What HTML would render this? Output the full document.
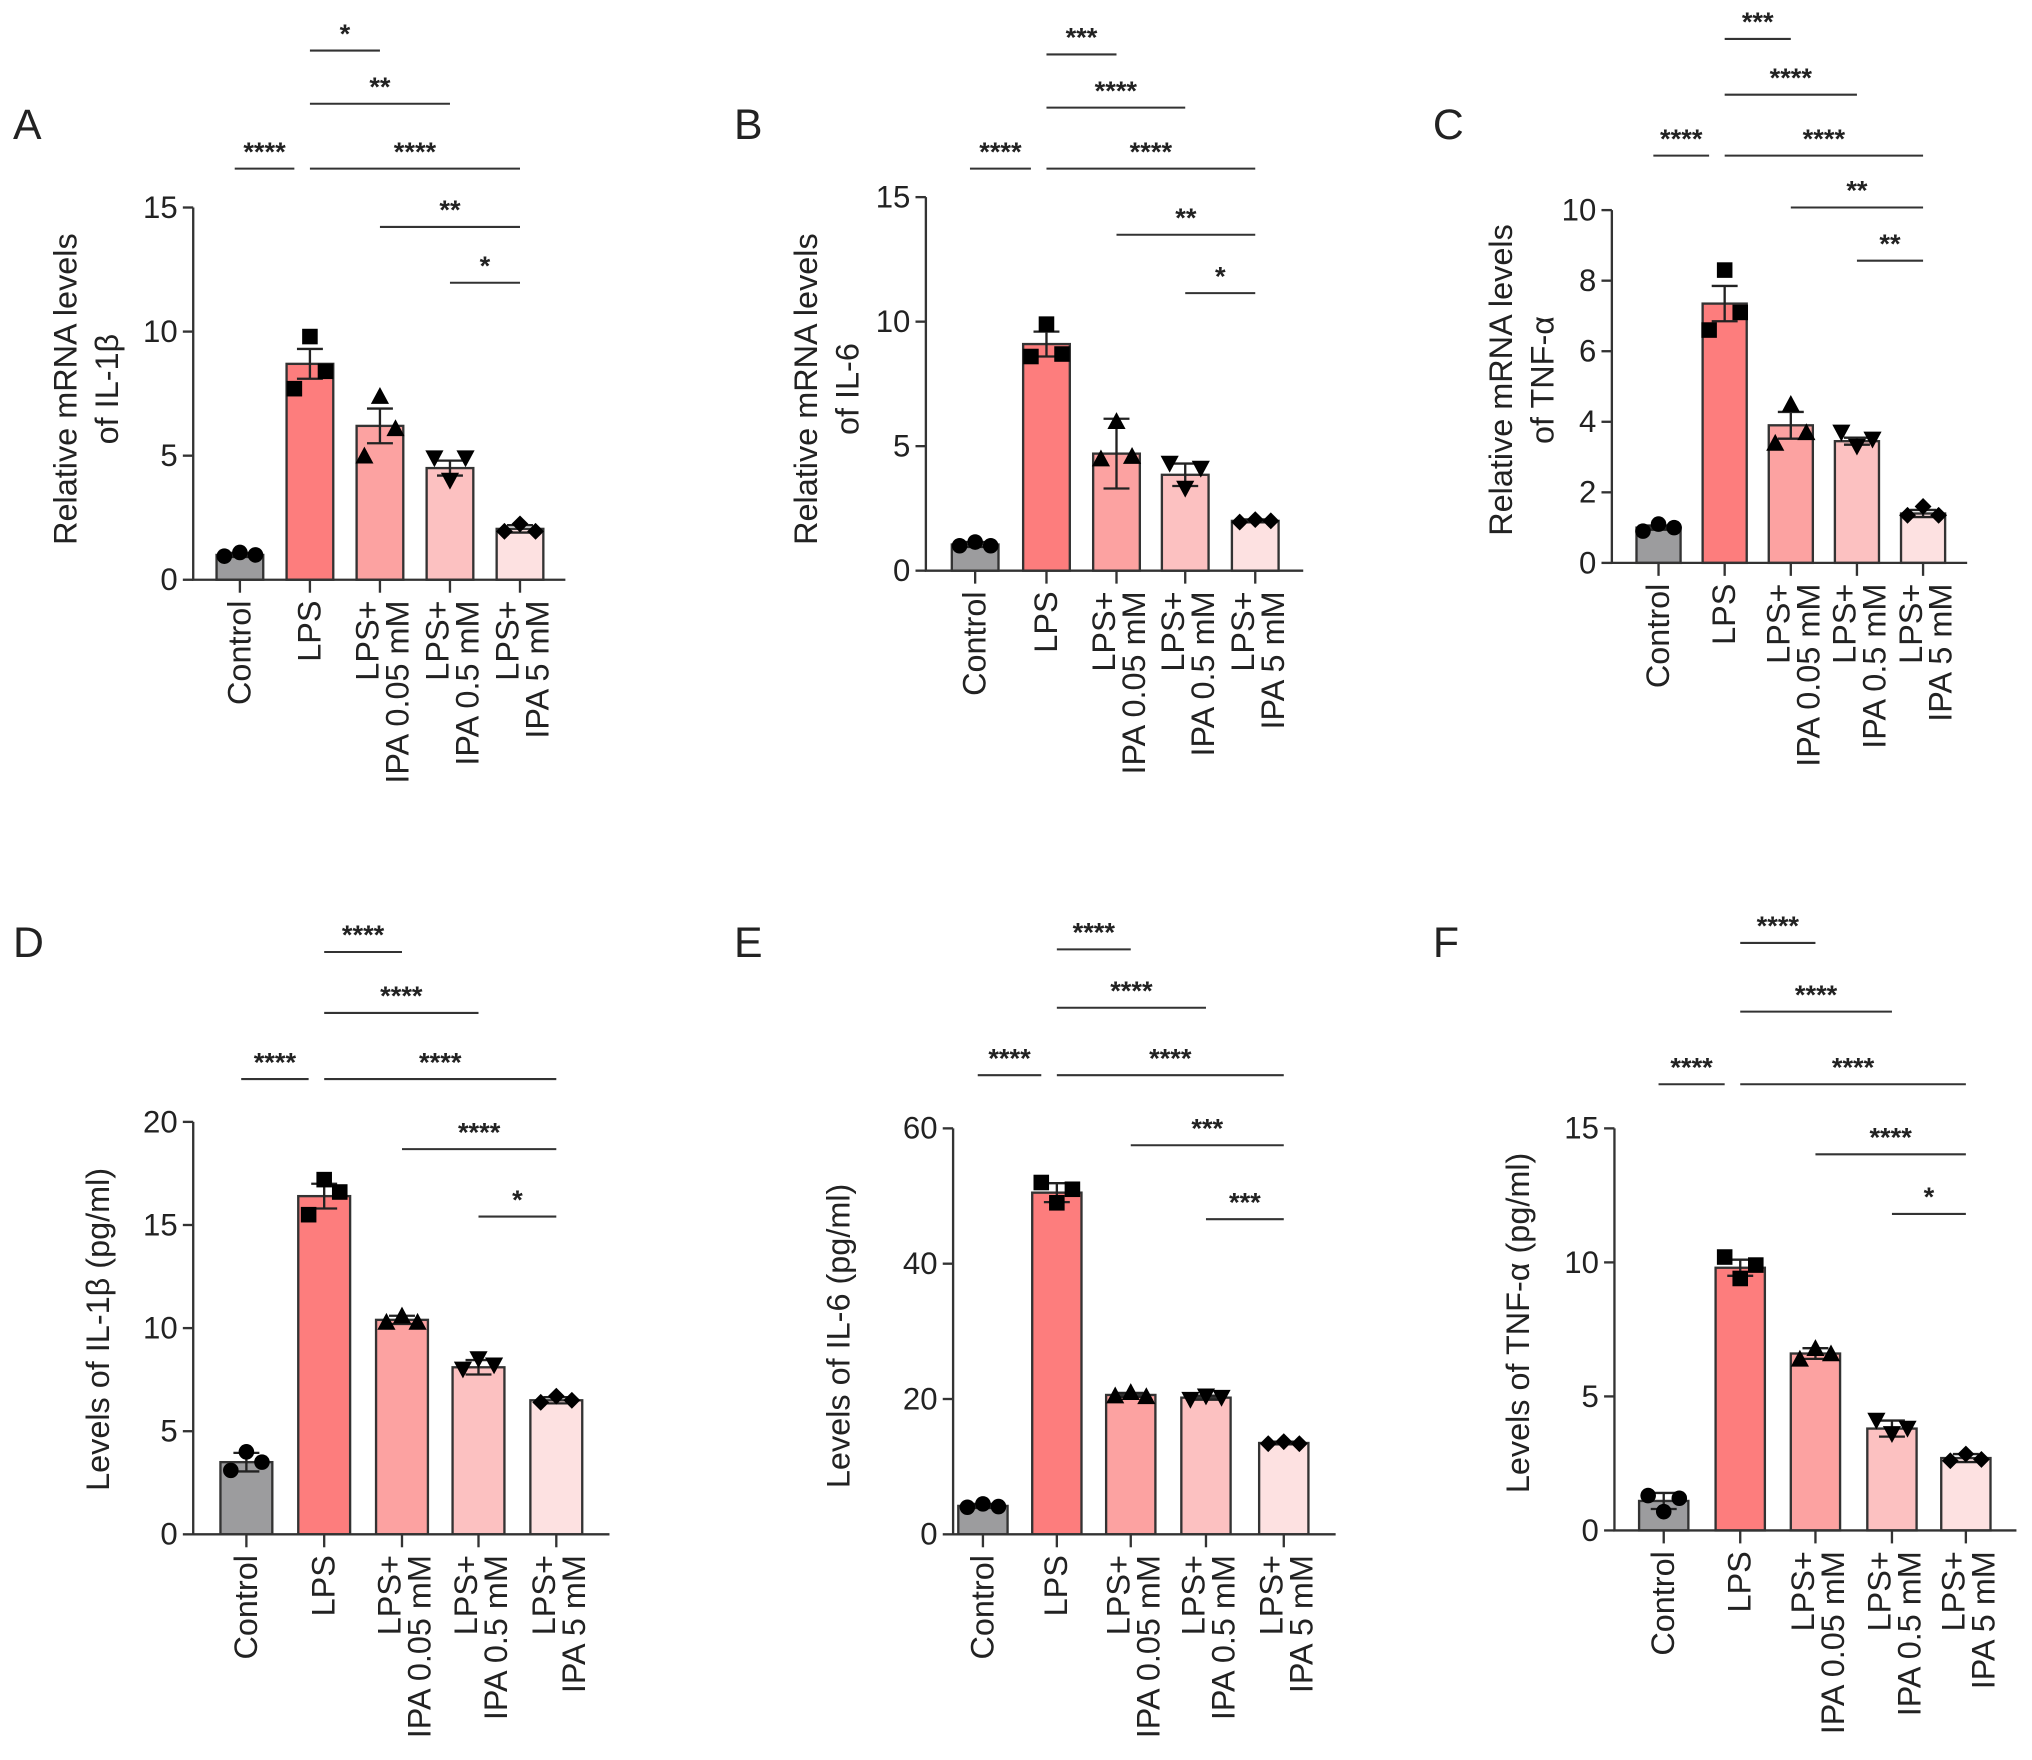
<!DOCTYPE html>
<html><head><meta charset="utf-8"><style>
html,body{margin:0;padding:0;background:#fff;}
svg{display:block;}
text{font-family:"Liberation Sans",Arial,sans-serif;fill:#222;}
</style></head><body>
<svg id="fig" width="2032" height="1760" viewBox="0 0 1567 1357" preserveAspectRatio="none" xmlns="http://www.w3.org/2000/svg"></svg>
<script>
// ---- data ----
const categories = ["Control","LPS","LPS+|IPA 0.05 mM","LPS+|IPA 0.5 mM","LPS+|IPA 5 mM"];
const aMeans = [1.0, 8.7, 6.2, 4.5, 2.05];
const aSem = [0.08, 0.6, 0.7, 0.3, 0.15];
const aPoints = [[0.95,1.1,1.0],[7.7,9.8,8.4],[5.0,7.4,6.1],[4.9,4.0,4.9],[1.95,2.25,1.95]];
const aTicks = [0,5,10,15];
const bMeans = [1.05, 9.1, 4.7, 3.85, 2.0];
const bSem = [0.1, 0.5, 1.4, 0.45, 0.06];
const bPoints = [[1.0,1.15,1.0],[8.6,9.9,8.7],[4.5,6.0,4.6],[4.3,3.3,4.1],[1.95,2.05,2.0]];
const bTicks = [0,5,10,15];
const cMeans = [1.0, 7.35, 3.9, 3.45, 1.4];
const cSem = [0.06, 0.5, 0.38, 0.1, 0.1];
const cPoints = [[0.9,1.1,1.0],[6.6,8.3,7.1],[3.4,4.5,3.7],[3.7,3.3,3.5],[1.35,1.6,1.35]];
const cTicks = [0,2,4,6,8,10];
const dMeans = [3.5, 16.4, 10.4, 8.1, 6.5];
const dSem = [0.45, 0.6, 0.2, 0.35, 0.15];
const dPoints = [[3.1,4.0,3.5],[15.5,17.2,16.6],[10.3,10.6,10.3],[8.0,8.5,8.2],[6.4,6.7,6.5]];
const dTicks = [0,5,10,15,20];
const eMeans = [4.2, 50.5, 20.6, 20.2, 13.5];
const eSem = [0.3, 1.4, 0.3, 0.3, 0.2];
const ePoints = [[4.0,4.5,4.1],[52,49,51],[20.5,21,20.4],[19.9,20.4,20.2],[13.4,13.7,13.4]];
const eTicks = [0,20,40,60];
const fMeans = [1.1, 9.8, 6.6, 3.8, 2.7];
const fSem = [0.3, 0.3, 0.2, 0.3, 0.15];
const fPoints = [[1.3,0.7,1.2],[10.2,9.4,9.9],[6.4,6.8,6.6],[4.1,3.6,3.8],[2.6,2.85,2.65]];
const fTicks = [0,5,10,15];
// significance: [fromIndex, toIndex, stars]
const aSig = [[1,2,"*"],[1,3,"**"],[0,1,"****"],[1,4,"****"],[2,4,"**"],[3,4,"*"]];
const bSig = [[1,2,"***"],[1,3,"****"],[0,1,"****"],[1,4,"****"],[2,4,"**"],[3,4,"*"]];
const cSig = [[1,2,"***"],[1,3,"****"],[0,1,"****"],[1,4,"****"],[2,4,"**"],[3,4,"**"]];
const dSig = [[1,2,"****"],[1,3,"****"],[0,1,"****"],[1,4,"****"],[2,4,"****"],[3,4,"*"]];
const eSig = [[1,2,"****"],[1,3,"****"],[0,1,"****"],[1,4,"****"],[2,4,"***"],[3,4,"***"]];
const fSig = [[1,2,"****"],[1,3,"****"],[0,1,"****"],[1,4,"****"],[2,4,"****"],[3,4,"*"]];

const colors = ["#9c9c9e","#fd7d7d","#fca2a1","#fcc1c1","#fde1e1"];
const NS = "http://www.w3.org/2000/svg";
const svg = document.getElementById("fig");
function mk(tag, attrs, parent){
  const e = document.createElementNS(NS, tag);
  for (const k in attrs) e.setAttribute(k, attrs[k]);
  (parent||svg).appendChild(e);
  return e;
}
function marker(g, kind, x, y){
  let m;
  if (kind===0) m = mk("circle",{cx:x,cy:y,r:6,fill:"#000"},g);
  else if (kind===1) m = mk("rect",{x:x-6,y:y-6,width:12,height:12,fill:"#000"},g);
  else if (kind===2) m = mk("polygon",{points:`${x},${y-7} ${x-7},${y+6} ${x+7},${y+6}`,fill:"#000"},g);
  else if (kind===3) m = mk("polygon",{points:`${x},${y+7} ${x-7},${y-6} ${x+7},${y-6}`,fill:"#000"},g);
  else m = mk("polygon",{points:`${x},${y-6.5} ${x+6.5},${y} ${x},${y+6.5} ${x-6.5},${y}`,fill:"#000"},g);
  
  
}
function panel(p){
  const g = mk("g",{});
  
  
  const ymax = p.ticks[p.ticks.length-1];
  const Y = v => p.y0 - (v/ymax)*(p.y0-p.yTop);
  const X = i => p.xs[i];
  const bw = p.bw;
  const L = mk("text",{x:p.lx,y:p.ly,"font-size":33},g); L.textContent=p.letter;
   
  p.means.forEach((v,i)=>{
    const r = mk("rect",{x:X(i)-bw/2,y:Y(v),width:bw,height:p.y0-Y(v),fill:colors[i],stroke:"#333","stroke-width":1.8},g);
     
    const hi=Y(v+p.sem[i]), lo=Y(v-p.sem[i]);
    const eb = mk("path",{d:`M${X(i)},${hi}V${lo}M${X(i)-10},${hi}H${X(i)+10}M${X(i)-10},${lo}H${X(i)+10}`,stroke:"#222","stroke-width":1.8,fill:"none"},g);
     
    p.points[i].forEach((pv,j)=>marker(g,i,X(i)+(j-1)*12,Y(pv)));
  });
  const ax = mk("path",{d:`M${p.ax},${p.yTop}V${p.y0}H${p.xEnd}`,stroke:"#333","stroke-width":1.8,fill:"none"},g);
   
  p.ticks.forEach(t=>{
    mk("line",{x1:p.ax-8,x2:p.ax,y1:Y(t),y2:Y(t),stroke:"#333","stroke-width":1.8},g);
    const tt = mk("text",{x:p.ax-12,y:Y(t)+8,"font-size":24,"text-anchor":"end"},g); tt.textContent=t;
     
  });
  categories.forEach((c,i)=>{
    mk("line",{x1:X(i),x2:X(i),y1:p.y0,y2:p.y0+10,stroke:"#333","stroke-width":1.8},g);
    const parts = c.split("|");
    const top = p.y0+16;
    if (parts.length===1){
      const t = mk("text",{x:0,y:0,"font-size":25,"text-anchor":"end",transform:`translate(${X(i)+8},${top}) rotate(-90)`},g);
      t.textContent=parts[0];
       
    } else {
      parts.forEach((s,k)=>{
        const t = mk("text",{x:0,y:0,"font-size":25,"text-anchor":"end",transform:`translate(${X(i)-1+k*23},${top}) rotate(-90)`},g);
        t.textContent=s;
         
      });
    }
  });
  p.title.forEach((s,k)=>{
    const t = mk("text",{x:0,y:0,"font-size":25,"text-anchor":"middle",transform:`translate(${p.tx+k*32},${p.ty}) rotate(-90)`},g);
    t.textContent=s;
     
  });
  p.sig.forEach((s,k)=>{
    let x1 = X(s[0])-(s[0]===0?4:0), x2 = X(s[1]);
    if (s[0]===0 && s[1]===1){ x2 = X(1)-12; }
    const y = p.sigY[k];
    const l = mk("line",{x1:x1,x2:x2,y1:y,y2:y,stroke:"#333","stroke-width":1.6},g);
     
    const t = mk("text",{x:(x1+x2)/2,y:y-6,"font-size":21,"font-weight":"bold","text-anchor":"middle"},g);
    t.textContent=s[2];
     
  });
}
panel({letter:"A",lx:10,ly:107,means:aMeans,sem:aSem,points:aPoints,ticks:aTicks,sig:aSig,
  ax:149,y0:447,yTop:160,xEnd:436,xs:[185,239,293,347,401],bw:36,
  sigY:[39,80,130,130,175,218],title:["Relative mRNA levels","of IL-1β"],tx:59,ty:300});
panel({letter:"B",lx:566,ly:107,means:bMeans,sem:bSem,points:bPoints,ticks:bTicks,sig:bSig,
  ax:714,y0:440,yTop:152,xEnd:1005,xs:[752,807,861,914,968],bw:36,
  sigY:[42,83,130,130,181,226],title:["Relative mRNA levels","of IL-6"],tx:630,ty:300});
panel({letter:"C",lx:1105,ly:107,means:cMeans,sem:cSem,points:cPoints,ticks:cTicks,sig:cSig,
  ax:1243,y0:434,yTop:162,xEnd:1517,xs:[1279,1330,1381,1432,1483],bw:34,
  sigY:[30,73,120,120,160,201],title:["Relative mRNA levels","of TNF-α"],tx:1166,ty:293});
panel({letter:"D",lx:10,ly:738,means:dMeans,sem:dSem,points:dPoints,ticks:dTicks,sig:dSig,
  ax:149,y0:1183,yTop:865,xEnd:470,xs:[190,250,310,369,429],bw:40,
  sigY:[734,781,832,832,886,938],title:["Levels of IL-1β (pg/ml)"],tx:84,ty:1025});
panel({letter:"E",lx:566,ly:738,means:eMeans,sem:eSem,points:ePoints,ticks:eTicks,sig:eSig,
  ax:735,y0:1183,yTop:870,xEnd:1030,xs:[758,815,872,930,990],bw:38,
  sigY:[732,777,829,829,883,940],title:["Levels of IL-6 (pg/ml)"],tx:655,ty:1030});
panel({letter:"F",lx:1105,ly:738,means:fMeans,sem:fSem,points:fPoints,ticks:fTicks,sig:fSig,
  ax:1245,y0:1180,yTop:870,xEnd:1555,xs:[1283,1342,1400,1459,1516],bw:38,
  sigY:[727,780,836,836,890,936],title:["Levels of TNF-α (pg/ml)"],tx:1179,ty:1020});
</script>
</body></html>
